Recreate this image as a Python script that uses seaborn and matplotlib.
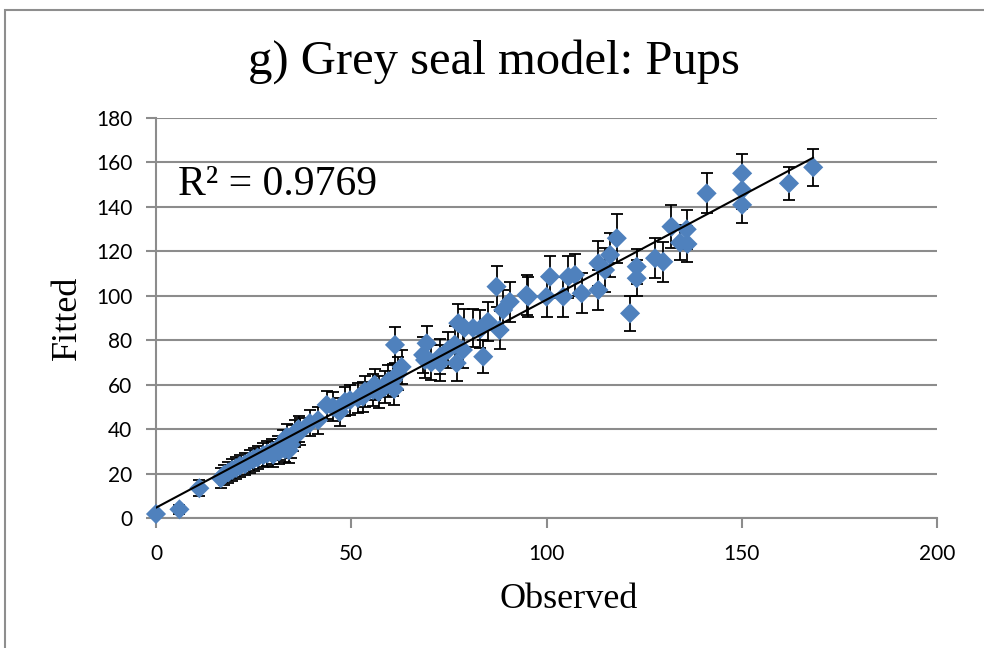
import matplotlib
matplotlib.use("Agg")
import numpy as np
import pandas as pd
import seaborn as sns
import matplotlib.pyplot as plt
from matplotlib.patches import Rectangle

# ---------------- data ----------------
observed = [0, 6, 11.1, 16.6, 17.5, 18.5, 19.5, 20.5, 21.5, 22.8, 24, 25, 26, 27.5, 28.5,
            29.7, 31.2, 32.5, 30, 31.5, 33, 34, 34.5, 35, 35.5, 36.5, 33.5, 37,
            39.4, 41.5, 43.7, 45.3, 47, 48.4, 49.7, 51.7, 53, 53.5, 55.6, 56, 57, 58.6,
            59.5, 60.7, 61, 61.2, 62.9, 62, 68.4, 68.9, 69.3, 70.5, 72.7, 72.7, 74.8,
            76.5, 77, 77.4, 78.6, 79, 81.2, 83, 83.8, 85, 87.2, 88, 88.9, 90.6, 94.9,
            95.3, 100, 100.9, 104.3, 105.6, 107.3, 109, 113.3, 113.3, 115, 116.3, 118,
            121.4, 123.1, 123.1, 127.8, 129.9, 132, 134.2, 135.9, 136.1, 141, 150.1,
            150.1, 150.1, 162.1, 168.3]
fitted = [1.8, 3.9, 13.4, 17.9, 19.5, 20.5, 21.6, 22.5, 23.5, 24.2, 25.6, 26.5, 27.2, 28.3, 29,
          30, 31.5, 33.8, 28.5, 30, 31, 30.5, 33, 36, 38, 40, 36.5, 39,
          42.7, 44, 50.9, 50, 47.7, 52.3, 53, 54, 54.6, 57, 57.6, 60, 56.7, 59,
          61.5, 62, 58, 77.9, 68, 65, 73.4, 71.1, 78.6, 70, 72.6, 69.7, 75.6,
          78, 69.7, 87.7, 75.6, 85.5, 85.5, 85, 72.6, 88.3, 104.1, 84.6, 93.6, 97.3, 100.4,
          99.6, 99.6, 108.6, 99.6, 108.6, 109.4, 101.1, 102.6, 114.6, 111.6, 118.4, 125.9,
          92.1, 113.1, 107.9, 116.9, 115.3, 131.1, 123.9, 129.9, 123.3, 146.1, 155.1,
          147.6, 140.9, 150.6, 157.8]
fit_error = [1.5, 2, 3.6, 4.5, 4.5, 4.6, 4.8, 5, 5, 5, 5.2, 5.2, 5.3, 5.4, 5.5,
             5.5, 5.6, 5.8, 5.5, 5.5, 5.6, 5.6, 5.8, 6, 6, 6, 6, 6,
             6, 6, 6.3, 6.5, 6.5, 6.5, 6.7, 6.8, 6.8, 7, 7, 7, 7, 7.2,
             7.2, 7.3, 7, 8, 7.5, 7.5, 8, 8, 8, 8, 8, 8, 8.2,
             8.3, 8, 8.5, 8.2, 8.5, 8.5, 8.5, 7.5, 8.7, 9.3, 8.5, 8.8, 9, 9,
             9, 9, 9.5, 9, 9.5, 9.5, 9, 9, 10, 10, 10, 11,
             8, 8, 8, 9, 9, 9.8, 8, 8.7, 8, 9, 8.7,
             8.5, 8, 7.5, 8.2]
x_ticks = [0, 50, 100, 150, 200]
y_ticks = [0, 20, 40, 60, 80, 100, 120, 140, 160, 180]
title_text = "g) Grey seal model: Pups"
r2_text = "R² = 0.9769"

df = pd.DataFrame({"Observed": observed, "Fitted": fitted, "err": fit_error})

# ---------------- styling ----------------
sns.set_theme(style="white")
plt.rcParams["font.family"] = ["Lato", "DejaVu Sans"]
SERIF = ["Liberation Serif", "DejaVu Serif"]
GRID = "#8C8C8C"
BLUE = "#4F81BD"

fig = plt.figure(figsize=(9.84, 6.48), dpi=100)
ax = fig.add_axes([156 / 984, 1 - 518 / 648, (937 - 156) / 984, (518 - 118) / 648])

# error bars (behind markers)
eb = ax.errorbar(df["Observed"], df["Fitted"], yerr=df["err"], fmt="none",
                 ecolor="black", elinewidth=1.3, capsize=4.5, capthick=1.3, zorder=2)
for part in eb.lines:
    for art in (part if isinstance(part, tuple) else [part]):
        if art is not None:
            art.set_clip_on(False)

sns.scatterplot(data=df, x="Observed", y="Fitted", marker="D", s=105, color=BLUE,
                edgecolor="none", linewidth=0, ax=ax, zorder=3, legend=False)
ax.collections[-1].set_clip_on(False)

sns.regplot(data=df, x="Observed", y="Fitted", scatter=False, ci=None, truncate=True,
            color="black", line_kws=dict(lw=1.5, zorder=4), ax=ax)

ax.set_xlim(0, 200)
ax.set_ylim(0, 180)
ax.set_xticks(x_ticks)
ax.set_yticks(y_ticks)
ax.set_xticklabels([str(t) for t in x_ticks])
ax.set_yticklabels([str(t) for t in y_ticks])

ax.yaxis.grid(True, color=GRID, lw=1.5)
ax.xaxis.grid(False)
ax.set_axisbelow(True)
for s in ("top", "right"):
    ax.spines[s].set_visible(False)
for s in ("left", "bottom"):
    ax.spines[s].set_color(GRID)
    ax.spines[s].set_linewidth(1.5)
ax.tick_params(axis="both", which="major", direction="out", length=7, width=1.5,
               color=GRID, labelsize=15, labelcolor="black")
ax.tick_params(axis="x", pad=12)
ax.tick_params(axis="y", pad=10)
ax.xaxis.set_ticks_position("bottom")
ax.yaxis.set_ticks_position("left")

ax.set_xlabel("Observed", fontfamily=SERIF, fontsize=26, color="black")
ax.set_ylabel("Fitted", fontfamily=SERIF, fontsize=26, color="black")
ax.xaxis.set_label_coords(0.528, -0.162)
ax.yaxis.set_label_coords(-0.092, 0.5)

ax.text(5.6, 150, r2_text, fontfamily=SERIF, fontsize=30, color="black",
        ha="left", va="center", zorder=5)

fig.text(0.502, 1 - 62 / 648, title_text, fontfamily=SERIF, fontsize=35,
         ha="center", va="center", color="black")

# outer chart-area border (clipped at right and bottom like the reference)
fig.patches.append(Rectangle((5 / 984, -0.2), 1.3, 1.2 - 10 / 648, transform=fig.transFigure,
                             fill=False, edgecolor="#8E8E8E", lw=1.5, clip_on=False))

fig.savefig("out.png", dpi=100, facecolor="white")
